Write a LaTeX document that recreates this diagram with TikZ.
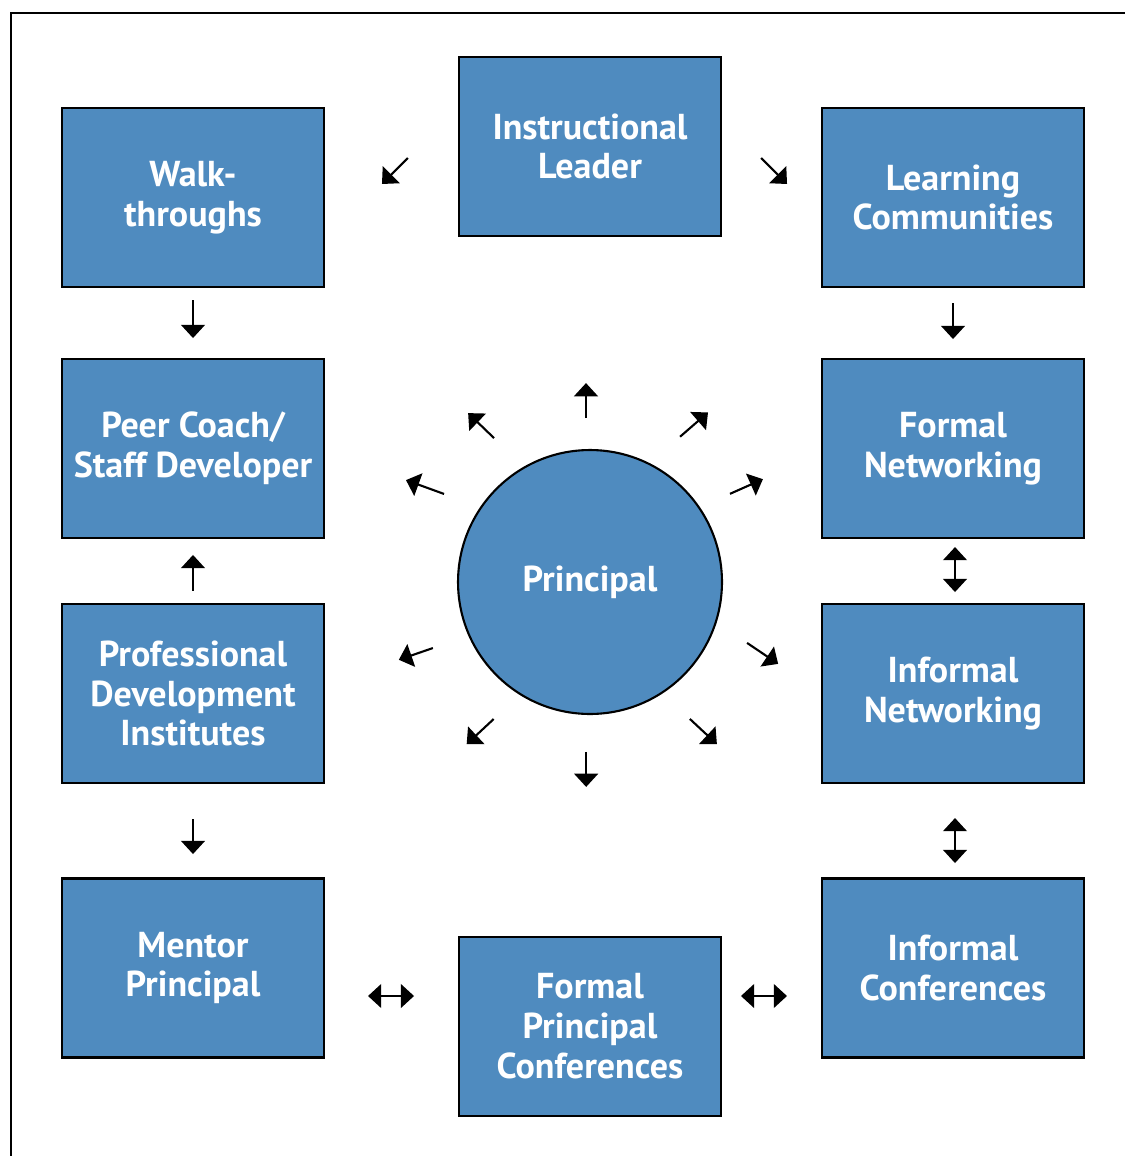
\documentclass[tikz,border=0pt]{standalone}
\usepackage{fontspec}
\setmainfont{PT Sans}
\usetikzlibrary{arrows.meta}
\definecolor{azul}{RGB}{79,139,191}
\tikzstyle{caja}=[rectangle, draw, line width=1.2pt, fill=azul, text=white, font=\bfseries\fontsize{20.5}{22.7}\selectfont, align=center, minimum width=5.24cm, minimum height=3.58cm, inner sep=0pt]
\tikzstyle{flecha}=[line width=1.2pt, -{Triangle[length=7.5pt,width=13.5pt]}]
\tikzstyle{dflecha}=[line width=1.2pt, {Triangle[length=7.5pt,width=13.5pt]}-{Triangle[length=7.5pt,width=13.5pt]}]

\begin{document}
\begin{tikzpicture}[x=0.02cm,y=-0.02cm]
            \useasboundingbox (0,0) rectangle (1125,1156);
            % Marco
            \draw[line width=1.2pt] (1125,13) -- (11,13) -- (11,1156);
            % Cajas
            \node[caja] (IL)  at (590,146.5) {Instructional\\Leader};
            \node[caja] (W)   at (193,197.5) {Walk-\\throughs};
            \node[caja] (LC)  at (953,197.5) {Learning\\Communities};
            \node[caja] (PC)  at (193,448.5) {Peer Coach/\\Staff Developer};
            \node[caja] (FN)  at (953,448.5) {Formal\\Networking};
            \node[caja] (PDI) at (193,693.5) {Professional\\Development\\Institutes};
            \node[caja] (IN)  at (953,693.5) {Informal\\Networking};
            \node[caja] (MP)  at (193,968) {Mentor\\Principal};
            \node[caja] (IC)  at (953,968) {Informal\\Conferences};
            \node[caja] (FPC) at (590,1026.5) {Formal\\Principal\\Conferences};
            % Centro
            \node[caja, circle, minimum size=5.28cm] (P) at (590,582) {Principal};
            % Flechas del centro: angulo/radio de la cola, direccion/largo
            \foreach \p/\r/\d/\l in {91.4/3.28/90/0.7, 123.7/3.46/136/0.72, 58.2/3.42/41/0.74,
                                     148.9/3.41/160/0.81, 32.2/3.31/24/0.72, 202.8/3.41/199/0.72,
                                     -21.2/3.37/-34/0.75, 234.9/3.35/-137/0.74, -53.9/3.39/-43/0.74,
                                     268.7/3.4/-90/0.7}
                \draw[flecha] ([shift={(\p:\r cm)}]P.center) -- ++(\d:\l cm);
            % Flechas entre cajas
            \draw[flecha] ([shift={(-50,11.5)}]IL.west) -- ([shift={(-76,37.5)}]IL.west);
            \draw[flecha] ([shift={(39,11.5)}]IL.east) -- ([shift={(65,37.5)}]IL.east);
            \draw[flecha] ([shift={(0,12)}]W.south) -- ([shift={(0,50)}]W.south);
            \draw[flecha] ([shift={(0,15)}]LC.south) -- ([shift={(0,51)}]LC.south);
            \draw[flecha] ([shift={(0,-12)}]PDI.north) -- ([shift={(0,-48)}]PDI.north);
            \draw[flecha] ([shift={(0,35)}]PDI.south) -- ([shift={(0,70)}]PDI.south);
            \draw[dflecha] ([shift={(2,8)}]FN.south) -- ([shift={(2,53)}]FN.south);
            \draw[dflecha] ([shift={(2,34)}]IN.south) -- ([shift={(2,79)}]IN.south);
            \draw[dflecha] ([shift={(43,28)}]MP.east) -- ([shift={(89,28)}]MP.east);
            \draw[dflecha] ([shift={(-80,28)}]IC.west) -- ([shift={(-34,28)}]IC.west);
        \end{tikzpicture}
\end{document}
